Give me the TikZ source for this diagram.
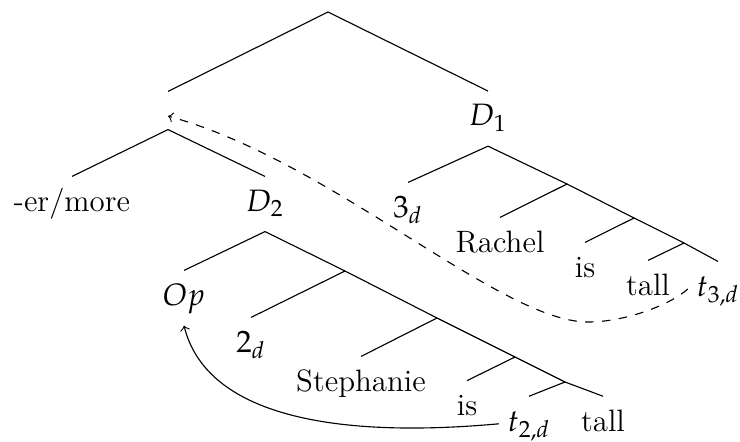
\documentclass[tikz,border=0pt]{standalone}
\usepackage{mathpazo}
\begin{document}
\begin{tikzpicture}[
		lab/.style={inner xsep=3pt, inner ysep=0pt, minimum height=0.675cm,
			text height=1.6ex, text depth=0.4ex, font=\fontsize{11}{13.2}\selectfont},
		gap/.style={inner sep=0pt, minimum height=0.4625cm}
	]
	\useasboundingbox (0,0) rectangle (9.25,5.5125);
	
	% Upper part of the tree
	\coordinate (R) at (4.1,5.3625);
	\node[gap] (L) at (2.1,4.13125) {};
	\node[lab] (D1) at (6.1,4.03) {$D_1$};
	\node[lab] (er) at (0.9,2.9625) {-er/more};
	\node[lab] (D2) at (3.3125,2.9625) {$D_2$};
	
	% Comparative clause under D1
	\node[lab] (th) at (5.1,2.8875) {$3_d$};
	\node[lab] (rach) at (6.25,2.45) {Rachel};
	\node[lab] (isA) at (7.3125,2.1375) {is};
	\node[lab] (tallA) at (8.1,1.9125) {tall};
	\node[lab] (tth) at (8.975,1.9) {$t_{3,d}$};
	\coordinate (N1) at (7.0875,3.2125);
	\coordinate (N2) at (7.925,2.7875);
	\coordinate (N3) at (8.55,2.475);
	
	% Clause under D2
	\node[lab] (op) at (2.3,1.7875) {$Op$};
	\node[lab] (tw) at (3.1375,1.2) {$2_d$};
	\node[lab] (steph) at (4.5125,0.7125) {Stephanie};
	\node[lab] (isB) at (5.8375,0.41) {is};
	\node[lab] (ttw) at (6.6125,0.215) {$t_{2,d}$};
	\node[lab] (tallB) at (7.5375,0.215) {tall};
	\coordinate (M1) at (4.3125,2.125);
	\coordinate (M2) at (5.4625,1.5375);
	\coordinate (M3) at (6.4375,1.05);
	\coordinate (M4) at (7.0625,0.7375);
	
	% Branches
	\foreach \a/\b in {R/L.north, R/D1.north, L.south/er.north, L.south/D2.north,
		D1.south/th.north, D1.south/N1, N1/rach.north, N1/N2, N2/isA.north, N2/N3,
		N3/tallA.north, N3/tth.north,
		D2.south/op.north, D2.south/M1, M1/tw.north, M1/M2, M2/steph.north, M2/M3,
		M3/isB.north, M3/M4, M4/ttw.north, M4/tallB.north}{
		\draw (\a) -- (\b);
	}
	
	% Movement arrows
	\draw[dashed,->] (tth.west) .. controls (8.375,1.7) and (7.8125,1.4875) .. (7.35,1.4875)
		.. controls (6.25,1.4875) and (4.125,3.5125) .. ([yshift=-2pt]L.center);
	\draw[->] (ttw.west) .. controls (4.0,0.0125) and (2.5625,0.3875) .. (op.south);
\end{tikzpicture}
\end{document}
